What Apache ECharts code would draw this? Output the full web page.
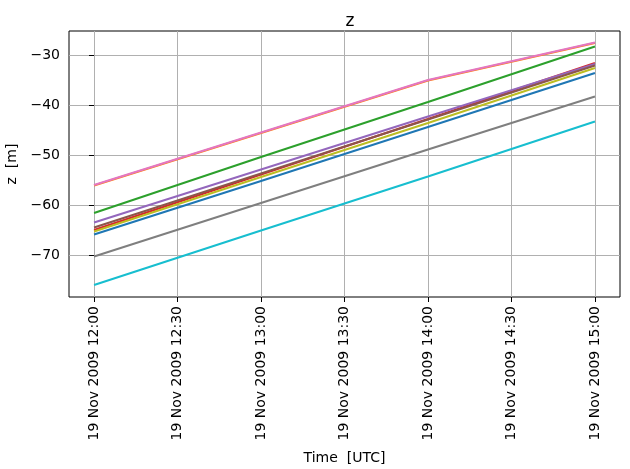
<!DOCTYPE html>
<html>
<head>
<meta charset="utf-8">
<script src="https://cdn.jsdelivr.net/npm/echarts@6/dist/echarts.min.js"></script>
<style>
html, body { margin: 0; padding: 0; background: #fff; }
#chart { width: 630px; height: 469px; }
</style>
</head>
<body>
<div id="chart"></div>
<script>
// sample times, minutes after 19 Nov 2009 12:00 UTC
const times = [0, 60, 120, 180]
const tickMinutes = [0, 30, 60, 90, 120, 150, 180]
const tickLabels = ['19 Nov 2009 12:00', '19 Nov 2009 12:30', '19 Nov 2009 13:00', '19 Nov 2009 13:30',
    '19 Nov 2009 14:00', '19 Nov 2009 14:30', '19 Nov 2009 15:00']
const yTicks = [-70, -60, -50, -40, -30]

const z0 = [-65.9, -55.2, -44.4, -33.6]
const z1 = [-56.1, -45.6, -35.1, -27.6]
const z2 = [-61.6, -50.4, -39.4, -28.3]
const z3 = [-65.0, -53.9, -42.8, -31.6]
const z4 = [-63.5, -52.9, -42.3, -31.8]
const z5 = [-64.5, -53.7, -42.9, -32.1]
const z6 = [-56.0, -45.5, -35.0, -27.5]
const z7 = [-70.3, -59.6, -48.9, -38.3]
const z8 = [-65.3, -54.4, -43.6, -32.6]
const z9 = [-76.0, -65.1, -54.3, -43.3]

const allZ = [z0, z1, z2, z3, z4, z5, z6, z7, z8, z9]
const colors = ['#1f77b4', '#ff7f0e', '#2ca02c', '#d62728', '#9467bd',
    '#8c564b', '#e377c2', '#7f7f7f', '#bcbd22', '#17becf']

const font = 'DejaVu Sans'
const minus = v => String(v).replace('-', '\u2212')

const series = allZ.map((z, i) => ({
    type: 'line',
    data: z.map((v, j) => [times[j], v]),
    showSymbol: false,
    lineStyle: { color: colors[i], width: 2 },
    itemStyle: { color: colors[i] },
    animation: false
}))

const myChart = echarts.init(document.getElementById('chart'))
myChart.setOption({
    animation: false,
    title: {
        text: 'z',
        left: 345,
        top: 8,
        textAlign: 'center',
        textStyle: { fontFamily: font, fontSize: 17, fontWeight: 'normal', color: '#000' }
    },
    grid: {
        left: 69, top: 31, width: 551, height: 266,
        show: true, borderColor: '#000', borderWidth: 1,
        containLabel: false, outerBoundsMode: 'none'
    },
    xAxis: {
        type: 'value',
        min: -9, max: 189,
        name: 'Time  [UTC]',
        nameLocation: 'middle',
        nameGap: 154,
        nameTextStyle: { fontFamily: font, fontSize: 14, color: '#000' },
        axisLine: { show: false },
        axisTick: { show: true, customValues: tickMinutes, length: 5, lineStyle: { color: '#000' } },
        axisLabel: {
            customValues: tickMinutes,
            rotate: 90,
            margin: 9,
            fontFamily: font, fontSize: 14, color: '#000',
            formatter: v => tickLabels[tickMinutes.indexOf(v)]
        },
        splitLine: { show: true, customValues: tickMinutes, lineStyle: { color: '#b0b0b0', width: 1 } }
    },
    yAxis: {
        type: 'value',
        min: -78.4, max: -25.2,
        name: 'z  [m]',
        nameLocation: 'middle',
        nameGap: 46,
        nameRotate: 90,
        nameTextStyle: { fontFamily: font, fontSize: 14, color: '#000' },
        axisLine: { show: false },
        axisTick: { show: true, customValues: yTicks, length: 5, lineStyle: { color: '#000' } },
        axisLabel: {
            customValues: yTicks,
            margin: 9,
            fontFamily: font, fontSize: 14, color: '#000',
            formatter: v => minus(v)
        },
        splitLine: { show: true, customValues: yTicks, lineStyle: { color: '#b0b0b0', width: 1 } }
    },
    series: series
})
</script>
</body>
</html>
